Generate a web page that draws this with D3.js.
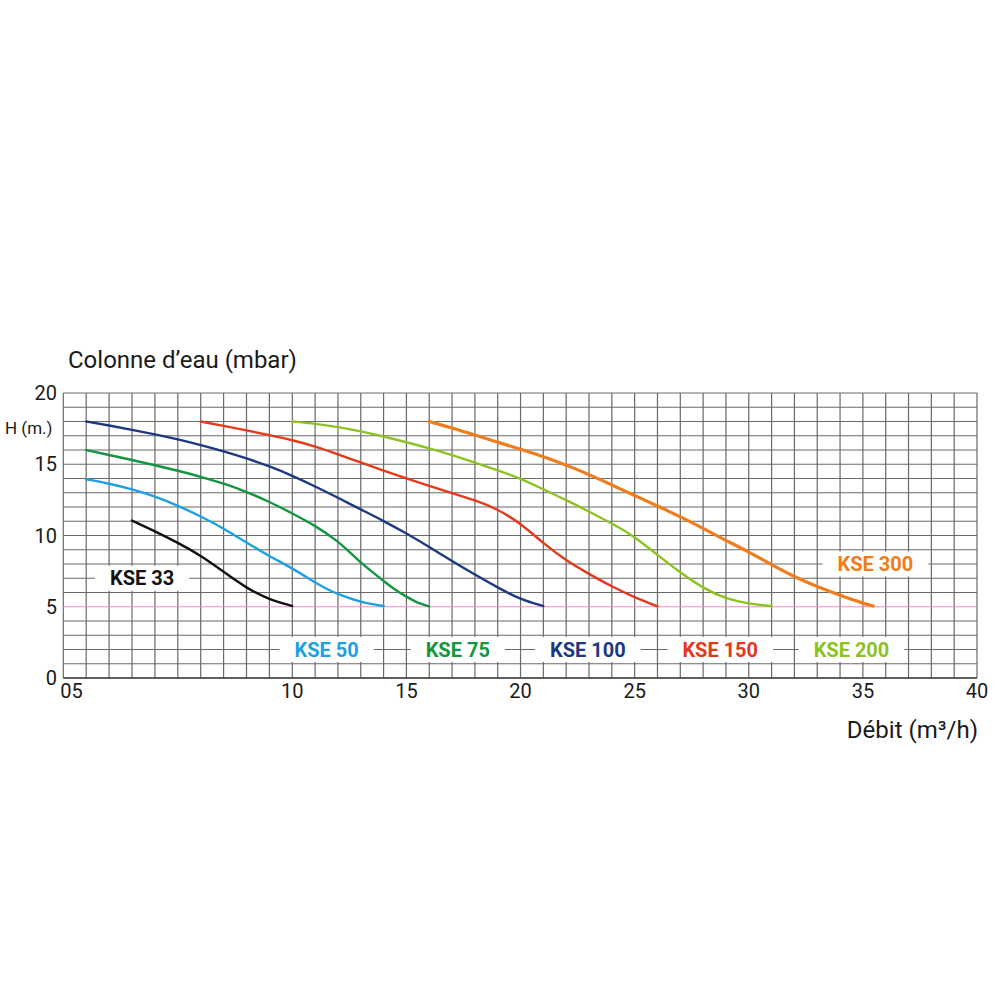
<!DOCTYPE html>
<html><head><meta charset="utf-8">
<script src="https://cdn.jsdelivr.net/npm/d3@7"></script>
<style>
html,body{margin:0;padding:0;background:#fff;}
svg text{font-family:Roboto,"Noto Sans",Arial,sans-serif;}
</style></head>
<body><svg id="c" width="1000" height="1000"></svg>
<script>
// ---- data ----
const xTickValues = [5, 10, 15, 20, 25, 30, 35, 40];
const xTickLabels = ["05", "10", "15", "20", "25", "30", "35", "40"];
const yTickValues = [0, 5, 10, 15, 20];
const yTickLabels = ["0", "5", "10", "15", "20"];

const seriesNames = ["KSE 33", "KSE 50", "KSE 75", "KSE 100", "KSE 150", "KSE 200", "KSE 300"];

const kse33 = [[6.5,11.05],[7,10.3],[7.5,9.5],[8,8.6],[8.5,7.45],[9,6.3],[9.5,5.5],[10,5.05]];
const kse50 = [[5.5,13.95],[6,13.65],[6.5,13.25],[7,12.75],[7.5,12.1],[8,11.35],[8.5,10.5],[9,9.5],[9.5,8.55],[10,7.7],[11,6.7],[11.5,6.25],[12,5.88],[13,5.3],[14,5.05]];
const kse75 = [[5.5,16],[6,15.65],[6.5,15.3],[7,14.93],[7.5,14.55],[8,14.13],[8.5,13.65],[9,13.07],[9.5,12.37],[10,11.55],[11,10.7],[12,9.6],[12.5,8.85],[13,8.1],[13.5,7.45],[14,6.8],[14.5,6.2],[15,5.7],[15.5,5.25],[16,5.03]];
const kse100 = [[5.5,18],[6,17.72],[6.5,17.42],[7,17.1],[7.5,16.75],[8,16.35],[8.5,15.92],[9,15.42],[9.5,14.86],[10,14.2],[11,13.45],[12,12.65],[13,11.83],[14,11.02],[15,10.15],[16,9.2],[17,8.2],[18,7.25],[19,6.35],[20,5.5],[21,5.05]];
const kse150 = [[8,18],[8.5,17.7],[9,17.38],[9.5,17.05],[10,16.7],[11,16.25],[12,15.7],[13,15.12],[14,14.56],[15,14.0],[16,13.48],[17,12.98],[18,12.48],[19,11.85],[20,10.86],[21,9.45],[22,8.23],[23,7.3],[24,6.42],[25,5.66],[26,5.03]];
const kse200 = [[10,18],[11,17.85],[12,17.62],[13,17.32],[14,16.95],[15,16.55],[16,16.12],[17,15.65],[18,15.12],[19,14.58],[20,14.0],[21,13.24],[22,12.49],[23,11.67],[24,10.86],[25,9.92],[26,8.63],[27,7.4],[28,6.3],[29,5.55],[30,5.2],[31,5.05]];
const kse300 = [[16,18],[17,17.55],[18,17.05],[19,16.55],[20,16.05],[21,15.55],[22,14.95],[23,14.28],[24,13.55],[25,12.8],[26,12.07],[27,11.32],[28,10.5],[29,9.65],[30,8.85],[31,7.95],[32,7.1],[33,6.4],[34,5.8],[35,5.25],[35.45,5.05]];

// label anchors (data units: flow, head)
const labelQ = [6.72, 11.5, 17.25, 22.95, 28.75, 34.5, 35.55];
const labelH = [7, 2, 2, 2, 2, 2, 8];

const minHead = 5;

// ---- styles ----
const colors = ["#111111", "#1da1e2", "#149540", "#1d3a80", "#e5391c", "#8cc320", "#f07d1a"];
const widths = [2.4, 2.4, 2.4, 2.4, 2.4, 2.4, 3.2];
const seriesData = [kse33, kse50, kse75, kse100, kse150, kse200, kse300];

// ---- layout ----
const L = 63.3, R = 977, T = 393, B = 678;
const xMid = 292.3;
const x = d3.scaleLinear().domain([5, 10, 40]).range([L, xMid, R]);
const y = d3.scaleLinear().domain([0, 20]).range([B, T]);

const svg = d3.select("#c");

// grid
const gx = d3.range(5, 10, 0.5).concat(d3.range(10, 40.001, 1));
const gy = d3.range(0, 20.001, 1);
const grid = svg.append("g").attr("stroke", "#6a6a6a").attr("stroke-width", 1.2);
grid.selectAll("line.v").data(gx).join("line").attr("class","v")
  .attr("x1", d => x(d)).attr("x2", d => x(d)).attr("y1", T).attr("y2", B);
grid.selectAll("line.h").data(gy.filter(d => d !== minHead)).join("line").attr("class","h")
  .attr("x1", L).attr("x2", R).attr("y1", d => y(d)).attr("y2", d => y(d));
svg.append("line").attr("x1", L).attr("x2", R).attr("y1", y(0)).attr("y2", y(0))
  .attr("stroke", "#444").attr("stroke-width", 1.6);

// pink minimum head line
svg.append("line").attr("x1", L).attr("x2", R).attr("y1", y(minHead)).attr("y2", y(minHead))
  .attr("stroke", "#f38dc6").attr("stroke-width", 1.2);

// label boxes + text
const lab = svg.append("g");
seriesNames.forEach((name, i) => {
  const cx = x(labelQ[i]), cy = y(labelH[i]);
  const t = lab.append("text").attr("x", cx).attr("y", cy + 7)
    .attr("text-anchor", "middle").attr("font-size", 20).attr("font-weight", 700)
    .attr("fill", colors[i]).text(name);
  const w = t.node().getComputedTextLength();
  lab.insert("rect", "text").attr("x", cx - w / 2 - 15).attr("y", cy - 12.5)
    .attr("width", w + 30).attr("height", 25).attr("fill", "#fff");
});

// curves
const line = d3.line().x(d => x(d[0])).y(d => y(d[1])).curve(d3.curveBasis);
svg.append("g").selectAll("path").data(seriesData).join("path")
  .attr("d", d => line(d)).attr("fill", "none")
  .attr("stroke", (d, i) => colors[i]).attr("stroke-width", (d, i) => widths[i])
  .attr("stroke-linecap", "round").attr("stroke-linejoin", "round");

// y tick labels
svg.append("g").selectAll("text").data(yTickValues).join("text")
  .attr("x", 57).attr("y", d => y(d) + 7).attr("text-anchor", "end")
  .attr("font-size", 20).attr("fill", "#1a1a1a").text((d, i) => yTickLabels[i]);

// x tick labels
svg.append("g").selectAll("text").data(xTickValues).join("text")
  .attr("x", (d, i) => i === 0 ? x(d) - 3 : x(d)).attr("y", 698)
  .attr("text-anchor", (d, i) => i === 0 ? "start" : "middle")
  .attr("font-size", 20).attr("fill", "#1a1a1a").text((d, i) => xTickLabels[i]);

// titles
svg.append("text").attr("x", 68).attr("y", 368).attr("font-size", 24).attr("fill", "#1a1a1a")
  .text("Colonne d’eau (mbar)");
svg.append("text").attr("x", 5).attr("y", 434).attr("font-size", 17).attr("fill", "#1a1a1a")
  .text("H (m.)");
svg.append("text").attr("x", 978).attr("y", 738).attr("text-anchor", "end")
  .attr("font-size", 24).attr("fill", "#1a1a1a").text("Débit (m³/h)");
</script></body></html>
